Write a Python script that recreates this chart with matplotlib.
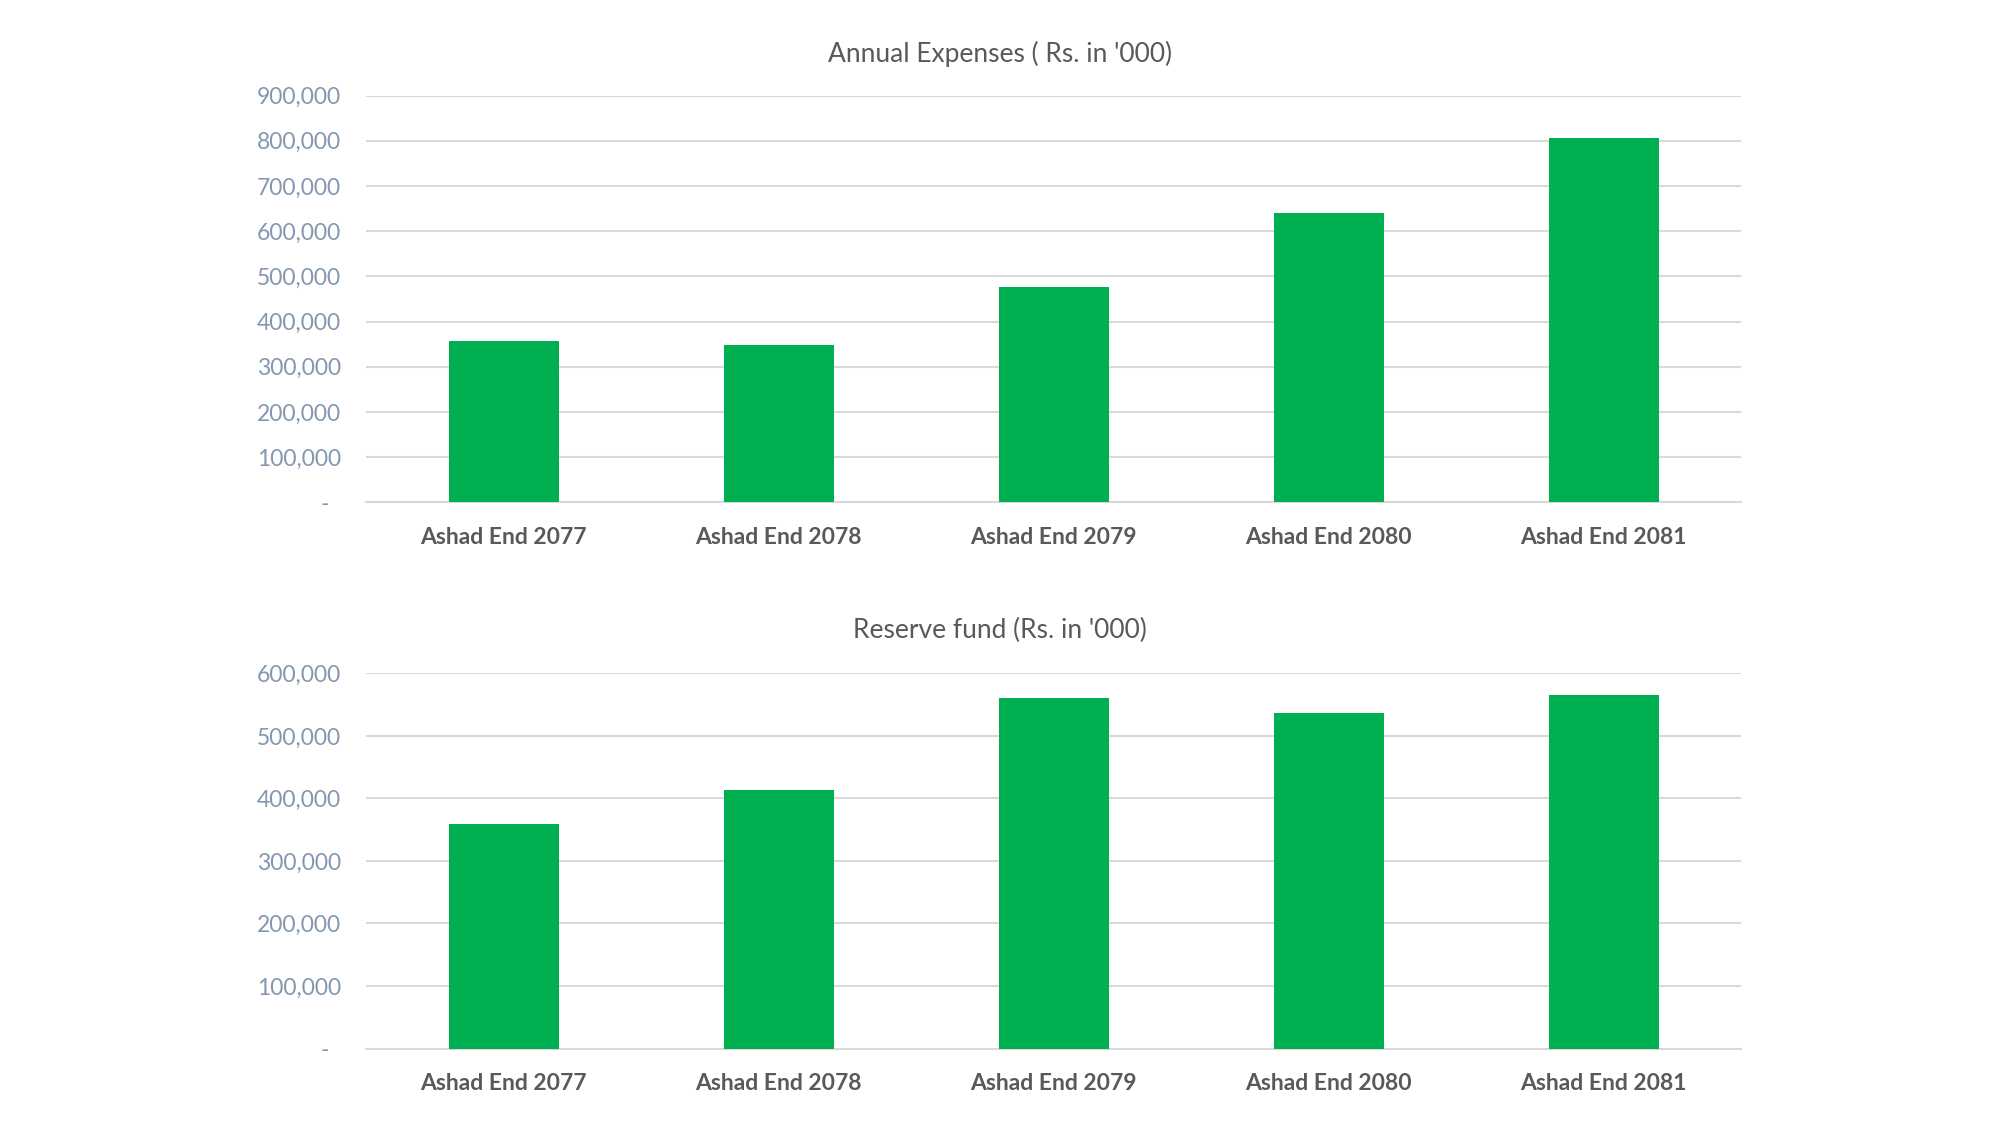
import matplotlib
matplotlib.use("Agg")
import matplotlib.pyplot as plt
from matplotlib.ticker import FuncFormatter

# data (Rs. in '000)
categories = ["Ashad End 2077", "Ashad End 2078", "Ashad End 2079",
              "Ashad End 2080", "Ashad End 2081"]
annual_expenses = [358000, 348000, 476000, 640000, 807000]
reserve_fund = [359000, 413000, 561000, 537000, 566000]

expense_ticks = [0, 100000, 200000, 300000, 400000, 500000, 600000, 700000, 800000, 900000]
reserve_ticks = [0, 100000, 200000, 300000, 400000, 500000, 600000]

GREEN = "#00B050"
GRID = "#D9D9D9"
TICK = "#8497B0"
TEXT = "#595959"

plt.rcParams["font.family"] = ["Lato", "DejaVu Sans"]


def acct(v, pos):
    if v == 0:
        return "-  "
    return "{:,.0f}".format(v)


def draw(ax, values, ticks):
    x = list(range(len(categories)))
    ax.bar(x, values, width=0.4, color=GREEN, zorder=3)
    ax.set_xlim(-0.5, len(categories) - 0.5)
    ax.set_ylim(ticks[0], ticks[-1])
    ax.set_yticks(ticks)
    ax.yaxis.set_major_formatter(FuncFormatter(acct))
    ax.set_xticks(x)
    ax.set_xticklabels(categories, fontweight="bold", color=TEXT, fontsize=16.5)
    ax.tick_params(axis="y", colors=TICK, labelsize=16.5, length=0, pad=18)
    ax.tick_params(axis="x", length=0, pad=18)
    ax.grid(axis="y", color=GRID, linewidth=1.5, zorder=0)
    for s in ["top", "right", "left"]:
        ax.spines[s].set_visible(False)
    ax.spines["bottom"].set_color(GRID)
    ax.spines["bottom"].set_linewidth(1.5)


fig = plt.figure(figsize=(20, 11.25), dpi=100)
ax1 = fig.add_axes([0.183, 0.5535, 0.6875, 0.3615])
ax2 = fig.add_axes([0.183, 0.068, 0.6875, 0.3334])

draw(ax1, annual_expenses, expense_ticks)
draw(ax2, reserve_fund, reserve_ticks)

# titles are centred on the figure, not on the plot area
fig.text(0.5, 0.952, "Annual Expenses ( Rs. in '000)", ha="center", va="center",
         color=TEXT, fontsize=19)
fig.text(0.5, 0.4395, "Reserve fund (Rs. in '000)", ha="center", va="center",
         color=TEXT, fontsize=19)

fig.savefig("out.png", dpi=100, facecolor="white")
